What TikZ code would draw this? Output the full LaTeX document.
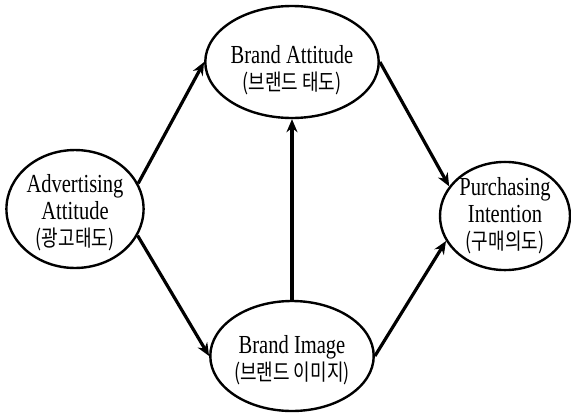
\documentclass[tikz,border=0pt]{standalone}
\usepackage{fontspec}
\setmainfont[FakeStretch=0.79]{Liberation Serif}
\newfontfamily\kr[FakeStretch=0.8]{Noto Sans CJK KR}
\usetikzlibrary{shapes.geometric,arrows.meta}
\begin{document}
\begin{tikzpicture}[x=1pt,y=-1pt,
  ell/.style={ellipse,draw,line width=2.4pt,inner sep=0pt,align=center,
    font=\fontsize{26}{27}\selectfont},
  arr/.style={line width=3.2pt,-{Stealth[length=13pt,width=11pt]}}]
\useasboundingbox (0,0) rectangle (571,413);
\newcommand{\krline}[1]{{\kr\fontsize{22.5}{27}\selectfont #1}}
\node[ell,minimum width=124pt,minimum height=116pt] (adv) at (75,209)
  {\rule{0pt}{25pt}Advertising\\Attitude\\\krline{(광고태도)}};
\node[ell,minimum width=132pt,minimum height=112pt] (ba) at (292,62)
  {\rule{0pt}{34pt}Brand Attitude\\\krline{(브랜드 태도)}};
\node[ell,minimum width=132pt,minimum height=110pt] (bi) at (292,356)
  {\rule{0pt}{26pt}Brand Image\\\krline{(브랜드 이미지)}};
\node[ell,minimum width=130pt,minimum height=104pt] (pi) at (505,216)
  {Purchasing\\Intention\\\krline{(구매의도)}};
\draw[arr] (adv.22) -- (ba.west);
\draw[arr] (adv.-23) -- (bi.west);
\draw[arr] (bi.north) -- (ba.south);
\draw[arr] (ba.east) -- (pi.152);
\draw[arr] (bi.east) -- (pi.203);
\end{tikzpicture}
\end{document}
